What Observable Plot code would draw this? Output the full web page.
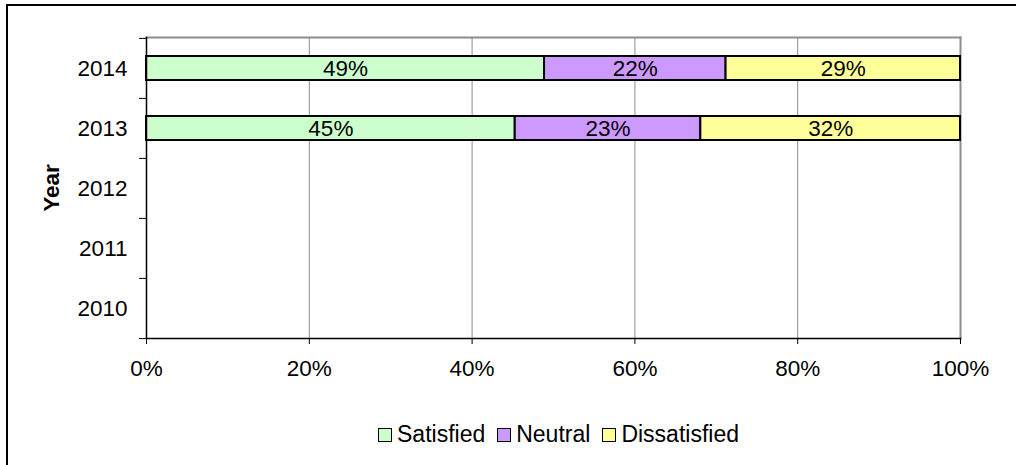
<!DOCTYPE html>
<html>
<head>
<meta charset="utf-8">
<script src="https://cdn.jsdelivr.net/npm/d3@7"></script>
<script src="https://cdn.jsdelivr.net/npm/@observablehq/plot@0.6"></script>
<style>
  html, body { margin: 0; padding: 0; background: #fff; overflow: hidden; width: 1016px; height: 465px; }
  #wrap { position: relative; width: 1016px; height: 465px; font-family: Arial, "Liberation Sans", sans-serif; overflow: hidden; }
  #btop { position: absolute; left: 6px; top: 4px; width: 1010px; height: 2px; background: #000; }
  #bleft { position: absolute; left: 6px; top: 4px; width: 2px; height: 461px; background: #000; }
  #chart { position: absolute; left: 0; top: 0; width: 1016px; height: 400px; }
  #ylabel { position: absolute; left: 52px; top: 188px; transform: translate(-50%, -50%) rotate(-90deg); font-weight: bold; font-size: 22.5px; color: #000; white-space: nowrap; }
  #legend { position: absolute; top: 421px; left: 378px; display: flex; gap: 12px; font-size: 23px; color: #000; white-space: nowrap; }
  .item { display: flex; align-items: center; gap: 5px; }
  .sw { width: 12px; height: 12px; border: 1.5px solid #000; }
</style>
</head>
<body>
<div id="wrap">
  <div id="btop"></div>
  <div id="bleft"></div>
  <div id="chart"></div>
  <div id="ylabel">Year</div>
  <div id="legend"></div>
</div>
<script>
const years = ["2014", "2013", "2012", "2011", "2010"];
const categories = ["Satisfied", "Neutral", "Dissatisfied"];
const colors = ["#CCFFCC", "#CC99FF", "#FFFF99"];
const dataYears = ["2014", "2013"];
const satisfied = [48.9, 45.3];
const neutral = [22.3, 22.8];
const dissatisfied = [28.8, 31.9];
const xTicks = [0, 20, 40, 60, 80, 100];

const data = dataYears.flatMap((y, i) => [
  {year: y, category: "Satisfied", value: satisfied[i]},
  {year: y, category: "Neutral", value: neutral[i]},
  {year: y, category: "Dissatisfied", value: dissatisfied[i]}
]);

const W = 1016, H = 400, mt = 37, mb = 62, ml = 146, mr = 56;
const step = (H - mt - mb) / years.length;
const FS = 22.5;

const chart = Plot.plot({
  width: W, height: H,
  marginTop: mt, marginBottom: mb, marginLeft: ml, marginRight: mr,
  style: {fontFamily: "Arial, 'Liberation Sans', sans-serif", fontSize: FS + "px", color: "#000", background: "transparent", overflow: "visible"},
  x: {domain: [0, 100]},
  y: {domain: years, paddingInner: 0.6, paddingOuter: 0.3},
  color: {domain: categories, range: colors},
  marks: [
    Plot.gridX({ticks: xTicks.slice(1), stroke: "#8c8c8c", strokeOpacity: 1, strokeWidth: 1}),
    Plot.frame({anchor: "top", stroke: "#8c8c8c", strokeWidth: 2}),
    Plot.frame({anchor: "right", stroke: "#8c8c8c", strokeWidth: 2}),
    Plot.barX(data, Plot.stackX({x: "value", y: "year", z: "category", fill: "category", stroke: "#000", strokeWidth: 2, order: categories})),
    Plot.text(data, Plot.stackX({x: "value", y: "year", z: "category", text: d => Math.round(d.value) + "%", order: categories, fill: "#000", fontSize: FS})),
    Plot.frame({anchor: "left", stroke: "#000", strokeWidth: 1.5}),
    Plot.frame({anchor: "bottom", stroke: "#000", strokeWidth: 1.5}),
    Plot.axisX({ticks: xTicks, tickFormat: d => d + "%", tickSize: 6, tickPadding: 16, stroke: "#000", label: null, fontSize: FS}),
    Plot.axisY({ticks: years, tickSize: 0, tickPadding: 19, label: null, fontSize: FS}),
    Plot.axisY({ticks: years, tickSize: 7, tickFormat: () => "", label: null, dy: -step / 2, stroke: "#000"}),
    Plot.axisY({ticks: ["2010"], tickSize: 7, tickFormat: () => "", label: null, dy: step / 2, stroke: "#000"})
  ]
});
document.getElementById("chart").appendChild(chart);

const legend = document.getElementById("legend");
categories.forEach((c, i) => {
  const item = document.createElement("div");
  item.className = "item";
  const sw = document.createElement("div");
  sw.className = "sw";
  sw.style.background = colors[i];
  const t = document.createElement("span");
  t.textContent = c;
  item.appendChild(sw);
  item.appendChild(t);
  legend.appendChild(item);
});
</script>
</body>
</html>
